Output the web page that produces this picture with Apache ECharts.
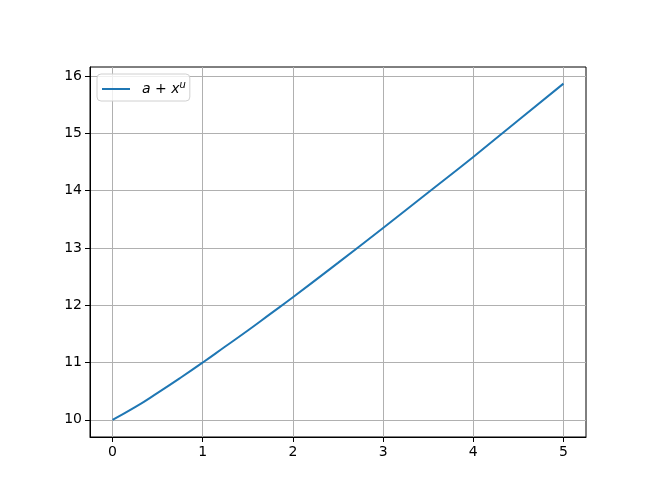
<!DOCTYPE html>
<html>
<head>
  <meta charset="UTF-8">
  <title>a + x^u</title>
  <style>
    html, body { margin: 0; padding: 0; background: #fff; }
    #chart { width: 660px; height: 499px; }
  </style>
  <script src="https://cdn.jsdelivr.net/npm/echarts@6/dist/echarts.min.js"></script>
</head>
<body>
  <div id="chart"></div>
  <script>
    // values
    const xValues = [0, 0.25, 0.5, 0.75, 1, 1.25, 1.5, 1.75, 2, 2.5, 3, 3.5, 4, 4.5, 5];
    const yValues = [10.00, 10.22, 10.47, 10.73, 11.00, 11.28, 11.56, 11.85, 12.14, 12.74, 13.35, 13.97, 14.59, 15.23, 15.87];
    const xTicks = [0, 1, 2, 3, 4, 5];
    const yTicks = [10, 11, 12, 13, 14, 15, 16];
    const seriesName = 'a + x^u';

    const font = 'DejaVu Sans';
    const chart = echarts.init(document.getElementById('chart'), null, { renderer: 'canvas' });

    function axis(min, max, ticks) {
      return {
        type: 'value',
        min: min,
        max: max,
        axisLine: { show: true, onZero: false, lineStyle: { color: '#000', width: 1 } },
        axisTick: { show: true, customValues: ticks, length: 5, lineStyle: { color: '#000', width: 1 } },
        axisLabel: { customValues: ticks, color: '#000', fontSize: 14, fontFamily: font, margin: 8 },
        splitLine: { show: true, lineStyle: { color: '#b0b0b0', width: 1 } }
      };
    }

    chart.setOption({
      animation: false,
      grid: { left: 90, right: 74, top: 67, bottom: 62, show: true, borderColor: '#000', borderWidth: 1, backgroundColor: 'transparent' },
      xAxis: axis(-0.25, 5.25, xTicks),
      yAxis: axis(9.7, 16.16, yTicks),
      legend: {
        left: 97, top: 74,
        orient: 'vertical',
        backgroundColor: 'rgba(255,255,255,0.8)',
        borderColor: '#d0d0d0', borderWidth: 1, borderRadius: 4,
        padding: [6, 4, 5, 5],
        icon: 'rect',
        itemWidth: 28, itemHeight: 2,
        itemGap: 10,
        formatter: function () { return '{i|a + x}{s|u}'; },
        textStyle: {
          color: '#000', fontFamily: font, fontSize: 14,
          rich: {
            i: { fontStyle: 'italic', fontSize: 14, fontFamily: font, padding: [0, 0, 0, 7] },
            s: { fontStyle: 'italic', fontSize: 10, fontFamily: font, padding: [0, 0, 8, 0] }
          }
        },
        data: [seriesName]
      },
      series: [{
        name: seriesName,
        type: 'line',
        data: xValues.map(function (x, i) { return [x, yValues[i]]; }),
        smooth: true,
        showSymbol: false,
        color: '#1f77b4',
        lineStyle: { width: 2, color: '#1f77b4' }
      }]
    });
  </script>
</body>
</html>
